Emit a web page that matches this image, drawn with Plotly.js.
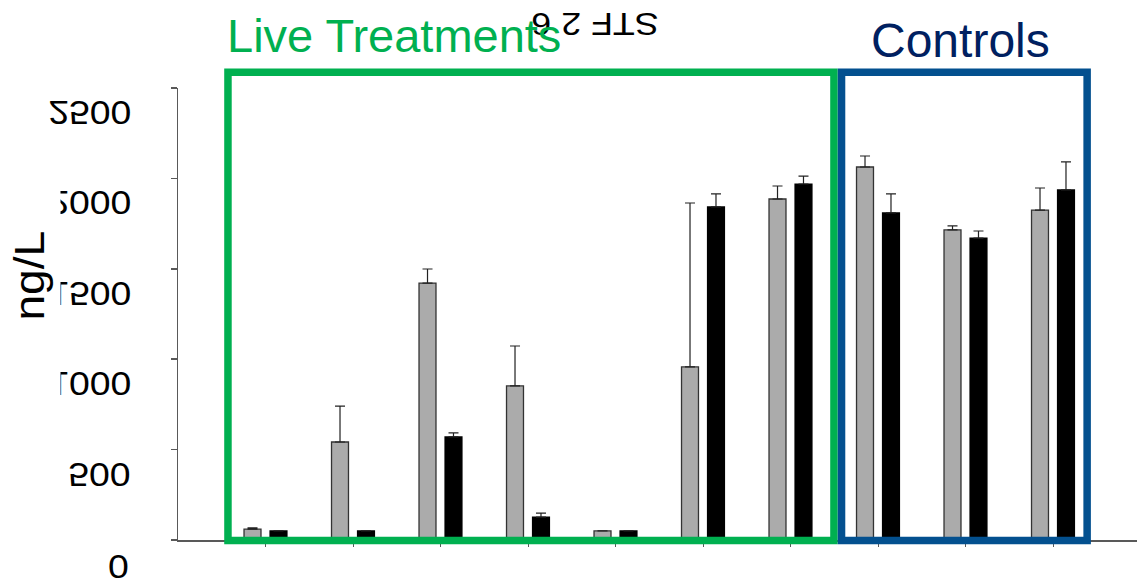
<!DOCTYPE html>
<html>
<head>
<meta charset="utf-8">
<script src="https://cdn.plot.ly/plotly-3.0.1.min.js"></script>
<style>
html,body{margin:0;padding:0;background:#fff;}
#chart{width:1137px;height:580px;}
</style>
</head>
<body>
<div id="chart"></div>
<script>
// ---- data ----
var groups = [1, 2, 3, 4, 5, 6, 7, 8, 9, 10];
var grayValues = [60, 542, 1421, 852, 50, 957, 1886, 2063, 1715, 1825];
var grayErrors = [7, 199, 78, 221, 0, 907, 72, 61, 22, 122];
var blackValues = [50, 50, 570, 127, 50, 1842, 1969, 1809, 1670, 1936];
var blackErrors = [0, 0, 22, 22, 0, 72, 44, 105, 39, 155];
var tickValues = [0, 500, 1000, 1500, 2000, 2500];
var tickLabels = ['0', '500', '1000', '1500', '2000', '2500'];
var chartTitle = 'STF 2 6';
var yTitle = 'ng/L';
var liveLabel = 'Live Treatments';
var controlLabel = 'Controls';

function zeros(n){ var a=[]; for(var i=0;i<n;i++) a.push(0); return a; }

var traces = [
  {
    type: 'bar', x: groups, y: grayValues, name: 'A',
    marker: {color: '#ababab', line: {color: '#333333', width: 1.3}},
    error_y: {type: 'data', array: grayErrors, arrayminus: zeros(groups.length), symmetric: false,
              color: '#222', thickness: 1.2, width: 5},
    hoverinfo: 'none'
  },
  {
    type: 'bar', x: groups, y: blackValues, name: 'B',
    marker: {color: '#000000', line: {color: '#000000', width: 1.2}},
    error_y: {type: 'data', array: blackErrors, arrayminus: zeros(groups.length), symmetric: false,
              color: '#222', thickness: 1.2, width: 5},
    hoverinfo: 'none'
  }
];

var FONT = 'Arial, "Liberation Sans", sans-serif';
var annotations = [];
var tickAnnIdx = [];
tickValues.forEach(function(v, i){
  tickAnnIdx.push(annotations.length);
  annotations.push({
    xref: 'paper', yref: 'y', x: -0.05, y: v, xanchor: 'right', yanchor: 'middle',
    yshift: v === 0 ? -27 : -25,
    text: tickLabels[i], showarrow: false,
    font: {family: FONT, size: 34, color: '#000'}
  });
});
// white cover that hides the left edge of some tick labels
annotations.push({
  xref: 'paper', yref: 'paper', x: -0.1856, y: 0.575, xanchor: 'left', yanchor: 'middle',
  text: '.', showarrow: false, width: 59, height: 280, bgcolor: '#ffffff', borderpad: 0,
  font: {family: FONT, size: 10, color: '#ffffff'}
});
var yTitleIdx = annotations.length;
annotations.push({
  xref: 'paper', yref: 'paper', x: -0.155, y: 0.586, xanchor: 'center', yanchor: 'middle',
  text: yTitle, textangle: -90, showarrow: false,
  font: {family: FONT, size: 42, color: '#000'}
});
var titleIdx = annotations.length;
annotations.push({
  xref: 'paper', yref: 'paper', x: 0.4348, y: 1.1416, xanchor: 'center', yanchor: 'middle',
  text: chartTitle, textangle: 180, showarrow: false,
  font: {family: FONT, size: 32, color: '#000'}
});
var liveIdx = annotations.length;
annotations.push({
  xref: 'paper', yref: 'paper', x: 0.049, y: 1.117, xanchor: 'left', yanchor: 'middle',
  text: liveLabel, showarrow: false,
  font: {family: FONT, size: 47, color: '#00b050'}
});
var ctrlIdx = annotations.length;
annotations.push({
  xref: 'paper', yref: 'paper', x: 0.8155, y: 1.106, xanchor: 'center', yanchor: 'middle',
  text: controlLabel, showarrow: false,
  font: {family: FONT, size: 48, color: '#002060'}
});

var layout = {
  width: 1137, height: 580,
  margin: {l: 178, r: 0, t: 88, b: 40, pad: 0},
  paper_bgcolor: '#fff', plot_bgcolor: '#fff',
  showlegend: false,
  barmode: 'group', bargap: 0.406, bargroupgap: 0.347,
  xaxis: {
    range: [0, 10.96], showgrid: false, zeroline: false,
    showline: true, linecolor: '#595959', linewidth: 1.5,
    ticks: 'outside', ticklen: 5, tickcolor: '#595959', tickwidth: 1,
    tickvals: groups, showticklabels: false, fixedrange: true
  },
  yaxis: {
    range: [0, 2500], showgrid: false, zeroline: false,
    showline: true, linecolor: '#595959', linewidth: 1.5,
    ticks: 'outside', ticklen: 6, tickcolor: '#595959', tickwidth: 1.5,
    tickvals: tickValues, showticklabels: false, fixedrange: true
  },
  shapes: [
    {type: 'rect', xref: 'paper', yref: 'paper', x0: 0.0521, x1: 0.684, y0: -0.001, y1: 1.035,
     line: {color: '#00b050', width: 7.5}, layer: 'above'},
    {type: 'rect', xref: 'paper', yref: 'paper', x0: 0.6919, x1: 0.948, y0: -0.001, y1: 1.035,
     line: {color: '#03508f', width: 7.5}, layer: 'above'}
  ],
  annotations: annotations
};

function transformText(idx, sx, sy){
  var g = document.querySelector('#chart g.annotation[data-index="' + idx + '"] text.annotation-text');
  if(!g) return;
  var b = g.getBBox();
  var cx = b.x + b.width / 2, cy = b.y + b.height / 2;
  var prev = g.getAttribute('transform') || '';
  g.setAttribute('transform', prev + ' translate(' + (cx * (1 - sx)) + ',' + (cy * (1 - sy)) + ') scale(' + sx + ',' + sy + ')');
}

Plotly.newPlot('chart', traces, layout, {staticPlot: true}).then(function(){
  tickAnnIdx.forEach(function(i){ transformText(i, 1.1, -1); });
  transformText(yTitleIdx, 1.1, 1);
  transformText(titleIdx, 1.12, 1);
});
</script>
</body>
</html>
